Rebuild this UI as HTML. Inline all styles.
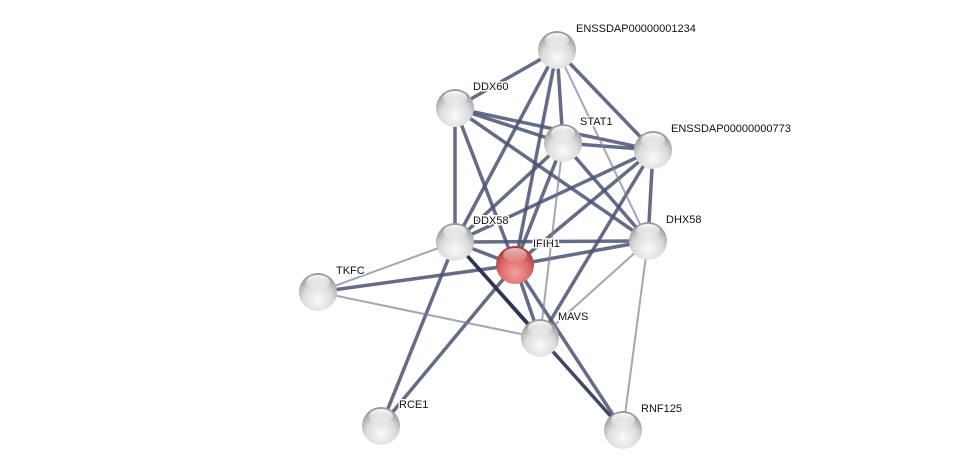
<!DOCTYPE html>
<html><head><meta charset="utf-8"><style>
html,body{margin:0;padding:0;background:#fff;width:975px;height:474px;overflow:hidden}
text{font-family:"Liberation Sans",sans-serif;font-size:11px;fill:#111;stroke:#fff;stroke-width:3px;paint-order:stroke;stroke-linejoin:round}
</style></head><body>
<svg width="975" height="474" viewBox="0 0 975 474" xmlns="http://www.w3.org/2000/svg">
<defs>
<radialGradient id="g" cx="50%" cy="70%" r="65%">
<stop offset="0" stop-color="#fafafa"/><stop offset="0.6" stop-color="#dcdcdc"/><stop offset="1" stop-color="#9a9a9a"/>
</radialGradient>
<radialGradient id="r" cx="50%" cy="70%" r="65%">
<stop offset="0" stop-color="#f4a0a0"/><stop offset="0.6" stop-color="#dd6a6a"/><stop offset="1" stop-color="#a83a3a"/>
</radialGradient>
<linearGradient id="h" x1="0" y1="0" x2="0" y2="1">
<stop offset="0" stop-color="#fff" stop-opacity="0.95"/><stop offset="1" stop-color="#fff" stop-opacity="0.1"/>
</linearGradient>
</defs>
<g stroke-linecap="round">
<g stroke="#4a5273" stroke-width="3.5" stroke-opacity="0.85">
<line x1="557" y1="50" x2="455" y2="108"/>
<line x1="557" y1="50" x2="563" y2="143"/>
<line x1="557" y1="50" x2="653" y2="150"/>
<line x1="557" y1="50" x2="455" y2="242"/>
<line x1="557" y1="50" x2="515" y2="265"/>
<line x1="455" y1="108" x2="563" y2="143"/>
<line x1="455" y1="108" x2="653" y2="150"/>
<line x1="455" y1="108" x2="455" y2="242"/>
<line x1="455" y1="108" x2="515" y2="265"/>
<line x1="455" y1="108" x2="648" y2="241"/>
<line x1="563" y1="143" x2="653" y2="150"/>
<line x1="563" y1="143" x2="455" y2="242"/>
<line x1="563" y1="143" x2="515" y2="265"/>
<line x1="563" y1="143" x2="648" y2="241"/>
<line x1="653" y1="150" x2="455" y2="242"/>
<line x1="653" y1="150" x2="515" y2="265"/>
<line x1="653" y1="150" x2="648" y2="241"/>
<line x1="653" y1="150" x2="540" y2="338"/>
<line x1="455" y1="242" x2="515" y2="265"/>
<line x1="455" y1="242" x2="648" y2="241"/>
<line x1="455" y1="242" x2="381" y2="426"/>
<line x1="515" y1="265" x2="648" y2="241"/>
<line x1="515" y1="265" x2="318" y2="292"/>
<line x1="515" y1="265" x2="540" y2="338"/>
<line x1="515" y1="265" x2="381" y2="426"/>
<line x1="515" y1="265" x2="623" y2="430"/>
</g>
<g stroke="#2c3450" stroke-width="3.5" stroke-opacity="0.9">
<line x1="455" y1="242" x2="540" y2="338"/>
<line x1="455" y1="242" x2="623" y2="430"/>
</g>
<g stroke="#7c8098" stroke-width="2" stroke-opacity="0.7">
<line x1="557" y1="50" x2="648" y2="241"/>
<line x1="563" y1="143" x2="540" y2="338"/>
<line x1="455" y1="242" x2="318" y2="292"/>
<line x1="648" y1="241" x2="540" y2="338"/>
<line x1="648" y1="241" x2="623" y2="430"/>
<line x1="318" y1="292" x2="540" y2="338"/>
</g>
</g>
<g>
<circle cx="557" cy="50" r="19" fill="url(#g)"/><ellipse cx="557" cy="40" rx="12" ry="7" fill="url(#h)"/>
<circle cx="455" cy="108" r="19" fill="url(#g)"/><ellipse cx="455" cy="98" rx="12" ry="7" fill="url(#h)"/>
<circle cx="563" cy="143" r="19" fill="url(#g)"/><ellipse cx="563" cy="133" rx="12" ry="7" fill="url(#h)"/>
<circle cx="653" cy="150" r="19" fill="url(#g)"/><ellipse cx="653" cy="140" rx="12" ry="7" fill="url(#h)"/>
<circle cx="455" cy="242" r="19" fill="url(#g)"/><ellipse cx="455" cy="232" rx="12" ry="7" fill="url(#h)"/>
<circle cx="648" cy="241" r="19" fill="url(#g)"/><ellipse cx="648" cy="231" rx="12" ry="7" fill="url(#h)"/>
<circle cx="318" cy="292" r="19" fill="url(#g)"/><ellipse cx="318" cy="282" rx="12" ry="7" fill="url(#h)"/>
<circle cx="540" cy="338" r="19" fill="url(#g)"/><ellipse cx="540" cy="328" rx="12" ry="7" fill="url(#h)"/>
<circle cx="381" cy="426" r="19" fill="url(#g)"/><ellipse cx="381" cy="416" rx="12" ry="7" fill="url(#h)"/>
<circle cx="623" cy="430" r="19" fill="url(#g)"/><ellipse cx="623" cy="420" rx="12" ry="7" fill="url(#h)"/>
<circle cx="515" cy="265" r="19" fill="url(#r)"/><ellipse cx="515" cy="255" rx="12" ry="7" fill="url(#h)" opacity="0.7"/>
</g>
<g>
<text x="576" y="32">ENSSDAP00000001234</text>
<text x="473" y="90">DDX60</text>
<text x="580" y="125">STAT1</text>
<text x="671" y="132">ENSSDAP00000000773</text>
<text x="473" y="224">DDX58</text>
<text x="533" y="247">IFIH1</text>
<text x="666" y="223">DHX58</text>
<text x="336" y="274">TKFC</text>
<text x="558" y="320">MAVS</text>
<text x="399" y="408">RCE1</text>
<text x="641" y="412">RNF125</text>
</g>
</svg>
</body></html>
